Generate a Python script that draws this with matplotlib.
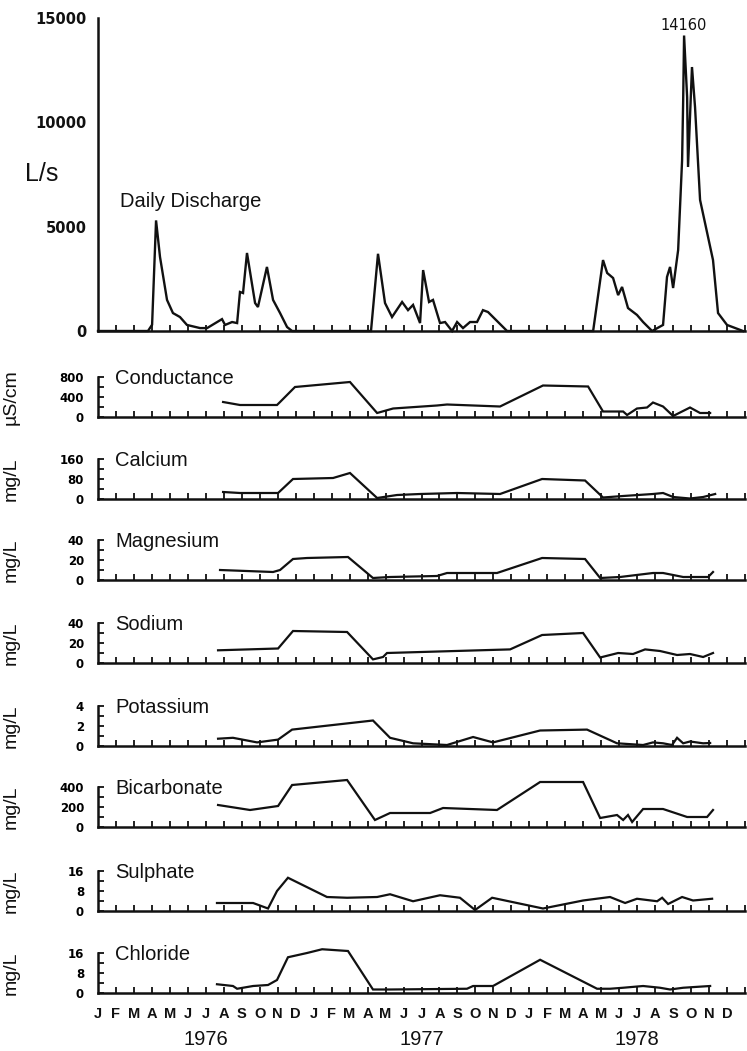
import matplotlib
matplotlib.use("Agg")
import matplotlib.pyplot as plt

# ---------------- data (x = months since 1 Jan 1976) ----------------
month_letters = ["J", "F", "M", "A", "M", "J", "J", "A", "S", "O", "N", "D"] * 3
years = ["1976", "1977", "1978"]

q_t = [0.0, 2.78, 3.01, 3.23, 3.45, 3.84, 4.17, 4.56, 4.95, 5.68, 6.07, 6.90, 7.07, 7.46, 7.74,
       7.90, 8.07, 8.29, 8.74, 8.90, 9.40, 9.74, 10.13, 10.52, 10.80, 15.19, 15.58, 15.97, 16.36,
       16.92, 17.25, 17.53, 17.92, 18.09, 18.42, 18.64, 19.03, 19.31, 19.70, 19.98, 20.31, 20.70,
       21.09, 21.42, 21.70, 22.76, 27.55, 28.10, 28.33, 28.66, 28.94, 29.16, 29.49, 29.99, 30.33,
       30.83, 31.44, 31.66, 31.83, 32.00, 32.28, 32.50, 32.56, 32.61, 32.78, 32.83, 33.05, 33.22,
       33.50, 34.22, 34.50, 35.00, 35.89]
q_v = [0, 0, 300, 5300, 3550, 1490, 860, 670, 290, 140, 140, 570, 290, 430, 380,
       1870, 1820, 3740, 1340, 1150, 3070, 1490, 860, 190, 0, 0, 3700, 1340, 670,
       1390, 1000, 1250, 380, 2920, 1390, 1490, 380, 430, 0, 430, 140, 430,
       430, 1000, 910, 0, 0, 3400, 2780, 2540, 1720, 2110, 1100, 770, 430,
       0, 290, 2590, 3070, 2060, 3880, 8190, 11070, 14160, 11200, 7860, 12650, 10730,
       6280, 3400, 860, 290, 0]
q_peak_label = "14160"

cond_t = [6.96, 7.90, 9.96, 10.13, 10.96, 14.02, 15.53, 16.42, 18.86, 19.42, 22.37, 24.76, 27.27,
          28.10, 29.22, 29.44, 29.99, 30.55, 30.88, 31.44, 32.00, 32.94, 33.50, 34.06]
cond_v = [300, 240, 240, 300, 600, 700, 80, 170, 230, 250, 210, 630, 610,
          110, 110, 40, 170, 190, 290, 210, 20, 190, 80, 80]

ca_t = [6.96, 7.90, 10.02, 10.85, 13.08, 14.02, 15.53, 16.64, 17.92, 19.98, 22.37, 24.71, 27.10,
        28.10, 29.22, 30.88, 31.44, 32.00, 32.94, 33.67, 34.34]
ca_v = [28, 24, 24, 80, 84, 104, 4, 16, 20, 24, 20, 80, 74,
        6, 12, 20, 24, 8, 2, 8, 20]

mg_t = [6.79, 9.74, 10.13, 10.85, 11.63, 13.91, 15.30, 16.25, 18.86, 19.42, 22.20, 24.71, 27.10,
        27.94, 29.05, 30.88, 31.44, 32.56, 33.95, 34.22]
mg_v = [10, 8, 10, 21, 22, 23, 2, 3, 4, 7, 7, 22, 21,
        2, 3, 7, 7, 3, 3, 8]

na_t = [6.68, 10.02, 10.85, 13.86, 15.30, 15.86, 16.08, 22.93, 24.71, 26.99, 27.94, 28.94, 29.77,
        30.44, 31.27, 32.22, 32.94, 33.67, 34.22]
na_v = [12.7, 14.5, 32, 31, 3.6, 6, 10, 13.6, 28, 30, 5.5, 10, 9,
        13.6, 12, 8, 9, 6, 10]

k_t = [6.68, 7.51, 8.85, 10.02, 10.80, 15.30, 16.25, 17.53, 19.42, 20.87, 21.98, 24.60, 27.21,
       28.88, 30.33, 30.88, 31.44, 31.94, 32.22, 32.56, 32.94, 33.67, 34.06]
k_v = [0.73, 0.82, 0.36, 0.64, 1.64, 2.55, 0.82, 0.27, 0.10, 0.90, 0.36, 1.55, 1.64,
       0.27, 0.10, 0.36, 0.27, 0.10, 0.82, 0.27, 0.45, 0.27, 0.30]

hco3_t = [6.68, 8.46, 10.02, 10.80, 13.86, 15.41, 16.25, 18.48, 19.20, 22.20, 24.60, 26.99, 27.94,
          28.88, 29.22, 29.49, 29.72, 30.33, 31.44, 32.78, 33.89, 34.22]
hco3_v = [220, 170, 210, 420, 470, 70, 140, 140, 190, 170, 450, 450, 90,
          120, 70, 120, 50, 180, 180, 100, 100, 170]

so4_t = [6.62, 8.63, 9.46, 9.96, 10.57, 12.74, 13.86, 15.53, 16.25, 17.53, 19.03, 20.14, 20.98,
         21.93, 24.76, 26.99, 28.49, 29.33, 29.99, 31.11, 31.39, 31.72, 32.50, 33.11, 34.17]
so4_v = [3.2, 3.2, 1.0, 8.0, 13.3, 5.6, 5.3, 5.6, 6.7, 3.9, 6.3, 5.3, 0.4,
         5.3, 1.0, 4.2, 5.6, 3.2, 4.9, 3.9, 5.3, 2.8, 5.6, 4.2, 4.9]

cl_t = [6.62, 7.51, 7.74, 8.63, 9.46, 9.96, 10.57, 11.63, 12.47, 13.91, 15.30, 16.25, 20.53, 20.87,
        21.98, 24.60, 27.77, 28.49, 29.22, 30.33, 31.27, 31.83, 32.56, 34.06]
cl_v = [3.5, 2.8, 1.7, 2.8, 3.2, 5.2, 14.3, 16.0, 17.5, 16.8, 1.4, 1.4, 1.7, 2.8,
        2.8, 13.3, 1.7, 1.7, 2.1, 2.8, 2.1, 1.4, 2.1, 2.8]

panel_names = ["Conductance", "Calcium", "Magnesium", "Sodium", "Potassium",
               "Bicarbonate", "Sulphate", "Chloride"]
panel_units = ["µS/cm", "mg/L", "mg/L", "mg/L", "mg/L", "mg/L", "mg/L", "mg/L"]
panel_ymax = [800, 160, 40, 40, 4, 400, 16, 16]
panel_t = [cond_t, ca_t, mg_t, na_t, k_t, hco3_t, so4_t, cl_t]
panel_v = [cond_v, ca_v, mg_v, na_v, k_v, hco3_v, so4_v, cl_v]

# ---------------- layout ----------------
W, H = 747, 1051
fig = plt.figure(figsize=(W / 100, H / 100), dpi=100)
fig.patch.set_facecolor("white")

LEFT, RIGHT = 98, 745
INK = "#111111"
baselines = [417, 499, 580, 663, 746, 827, 911, 993]
PANEL_H = 40


def add_ax(top_px, bottom_px):
    return fig.add_axes([LEFT / W, 1 - bottom_px / H, (RIGHT - LEFT) / W, (bottom_px - top_px) / H])


def style_common(ax):
    for s in ("top", "right"):
        ax.spines[s].set_visible(False)
    for s in ("left", "bottom"):
        ax.spines[s].set_linewidth(1.8)
        ax.spines[s].set_color(INK)
    ax.set_xlim(0, 36)
    ax.set_xticks(range(1, 37))
    ax.set_xticklabels([])
    ax.tick_params(axis="x", which="major", direction="in", length=4.5, width=1.3, color=INK)
    ax.set_facecolor("none")


tick_font = dict(family="DejaVu Sans", weight="bold")

# ---- discharge panel ----
ax0 = add_ax(18, 331)
style_common(ax0)
ax0.plot(q_t, q_v, color=INK, lw=1.7, clip_on=False, solid_joinstyle="miter")
ax0.set_ylim(0, 15000)
ax0.set_yticks([0, 5000, 10000, 15000])
ax0.set_yticklabels(["0", "5000", "10000", "15000"], fontsize=10.5, **tick_font)
ax0.tick_params(axis="y", which="major", length=0, pad=8, colors=INK)
ax0.set_yticks([15000], minor=True)
ax0.tick_params(axis="y", which="minor", direction="in", length=5, width=1.3, color=INK)
ipk = q_v.index(max(q_v))
ax0.annotate(q_peak_label, xy=(q_t[ipk], q_v[ipk]), xytext=(0, 2), textcoords="offset points",
             ha="center", va="bottom", fontsize=10.5, family="DejaVu Sans", color=INK)
fig.text(120 / W, 1 - 207 / H, "Daily Discharge", fontsize=14.5, family="Liberation Sans",
         color=INK, va="baseline", ha="left")
fig.text(25 / W, 1 - 181 / H, "L/s", fontsize=18, family="Liberation Sans",
         color=INK, va="baseline", ha="left")

# ---- chemistry panels ----
axes = []
for i, (name, unit, ymax, tt, vv) in enumerate(zip(panel_names, panel_units, panel_ymax, panel_t, panel_v)):
    b = baselines[i]
    ax = add_ax(b - PANEL_H, b)
    style_common(ax)
    ax.plot(tt, vv, color=INK, lw=1.6, clip_on=False, solid_joinstyle="miter")
    ax.set_ylim(0, ymax)
    ax.set_yticks([0, ymax / 2, ymax])
    ax.set_yticklabels([str(int(0)), str(int(ymax / 2)), str(int(ymax))], fontsize=8.5, **tick_font)
    ax.set_yticks([ymax / 4, 3 * ymax / 4], minor=True)
    ax.tick_params(axis="y", which="both", direction="in", length=4.5, width=1.3, color=INK, pad=10)
    ax.annotate(name, xy=(17 / (RIGHT - LEFT), 1.0), xycoords="axes fraction", xytext=(0, -5),
                textcoords="offset points", va="baseline", ha="left", fontsize=14.5,
                family="Liberation Sans", color=INK)
    ax.set_ylabel(unit, fontsize=14, family="Liberation Sans", color=INK)
    ax.yaxis.set_label_coords((20 - LEFT) / (RIGHT - LEFT), 0.5)
    axes.append(ax)

# month letters and years under the last panel
axl = axes[-1]
axl.xaxis.remove_overlapping_locs = False
axl.set_xticks(range(0, 36), minor=True)
axl.set_xticklabels(month_letters, minor=True, fontsize=10.5, family="Liberation Sans",
                    weight="bold", color=INK)
axl.tick_params(axis="x", which="minor", length=0, pad=10)
for k, yr in enumerate(years):
    axl.annotate(yr, xy=(12 * k + 6, 0), xycoords=("data", "axes fraction"),
                 xytext=(0, -47 / 1.389), textcoords="offset points", ha="center", va="center",
                 fontsize=14.5, family="Liberation Sans", color=INK)

fig.savefig("out.png", dpi=100, facecolor="white")
